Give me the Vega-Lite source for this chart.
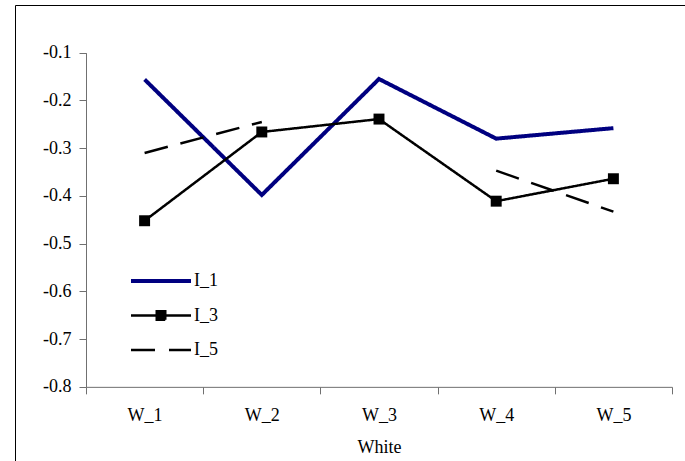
{
  "$schema": "https://vega.github.io/schema/vega-lite/v6.json",
  "width": 670,
  "height": 463,
  "autosize": {"type": "none"},
  "padding": {"left": 15, "top": 5, "right": 0, "bottom": 0},
  "background": "white",
  "config": {
    "font": "Liberation Serif",
    "view": {"stroke": "#000000", "strokeWidth": 1},
    "axis": {"labelColor": "#000000", "titleColor": "#000000", "domainColor": "#707070", "tickColor": "#707070", "grid": false}
  },
  "data": {
    "values": [
      {"cat": "W_1", "series": "I_1", "value": -0.156},
      {"cat": "W_2", "series": "I_1", "value": -0.398},
      {"cat": "W_3", "series": "I_1", "value": -0.155},
      {"cat": "W_4", "series": "I_1", "value": -0.28},
      {"cat": "W_5", "series": "I_1", "value": -0.258},
      {"cat": "W_1", "series": "I_3", "value": -0.452},
      {"cat": "W_2", "series": "I_3", "value": -0.266},
      {"cat": "W_3", "series": "I_3", "value": -0.239},
      {"cat": "W_4", "series": "I_3", "value": -0.411},
      {"cat": "W_5", "series": "I_3", "value": -0.364},
      {"cat": "W_1", "series": "I_5", "value": -0.31},
      {"cat": "W_2", "series": "I_5", "value": -0.245},
      {"cat": "W_3", "series": "I_5", "value": null},
      {"cat": "W_4", "series": "I_5", "value": -0.347},
      {"cat": "W_5", "series": "I_5", "value": -0.433}
    ]
  },
  "encoding": {
    "x": {
      "field": "cat",
      "type": "nominal",
      "sort": null,
      "scale": {"type": "band", "range": [71, 657], "paddingInner": 0, "paddingOuter": 0},
      "axis": {
        "title": "White",
        "orient": "bottom",
        "offset": -81.15,
        "tickBand": "extent",
        "tickSize": 7,
        "labelPadding": 13,
        "labelAngle": 0,
        "labelFontSize": 18,
        "titleFontSize": 18,
        "titleFontWeight": "normal",
        "titleX": 364,
        "titleY": 66,
        "titleBaseline": "alphabetic"
      }
    },
    "y": {
      "field": "value",
      "type": "quantitative",
      "scale": {"domain": [-0.8, -0.1], "range": [381.85, 47.73], "nice": false, "zero": false},
      "axis": {
        "title": null,
        "offset": -71,
        "values": [-0.1, -0.2, -0.3, -0.4, -0.5, -0.6, -0.7, -0.8],
        "labelExpr": "'-' + format(abs(datum.value), '.1f')",
        "tickSize": 7,
        "labelPadding": 8,
        "labelFontSize": 18
      }
    }
  },
  "layer": [
    {
      "mark": {"type": "line", "invalid": "break-paths-show-domains", "strokeJoin": "miter"},
      "encoding": {
        "color": {
          "field": "series",
          "type": "nominal",
          "scale": {"domain": ["I_1", "I_3", "I_5"], "range": ["#000080", "#000000", "#000000"]},
          "legend": {
            "title": null,
            "orient": "none",
            "legendX": 137,
            "legendY": 267,
            "padding": 0,
            "rowPadding": 15.5,
            "symbolSize": 100,
            "symbolType": "stroke",
            "symbolStrokeWidth": 3,
            "labelOffset": 24,
            "labelFontSize": 18,
            "labelColor": "#000000",
            "encode": {
              "symbols": {
                "update": {
                  "shape": {"signal": "datum.value === 'I_3' ? 'M-6,0H6M-0.85,-0.85H0.85V0.85H-0.85Z' : 'M-6,0H6'"},
                  "fill": {"signal": "datum.value === 'I_3' ? '#000000' : 'transparent'"},
                  "strokeDash": {"signal": "datum.value === 'I_5' ? [24, 14] : [1, 0]"},
                  "strokeWidth": {"signal": "datum.value === 'I_1' ? 4 : 2.5"}
                }
              }
            }
          }
        },
        "strokeWidth": {"condition": {"test": "datum.series === 'I_1'", "value": 4}, "value": 2.5},
        "strokeDash": {"condition": {"test": "datum.series === 'I_5'", "value": [24, 13]}, "value": [1, 0]}
      }
    },
    {
      "transform": [{"filter": "datum.series === 'I_3'"}],
      "mark": {"type": "square", "size": 120, "color": "#000000", "filled": true, "opacity": 1}
    }
  ]
}
